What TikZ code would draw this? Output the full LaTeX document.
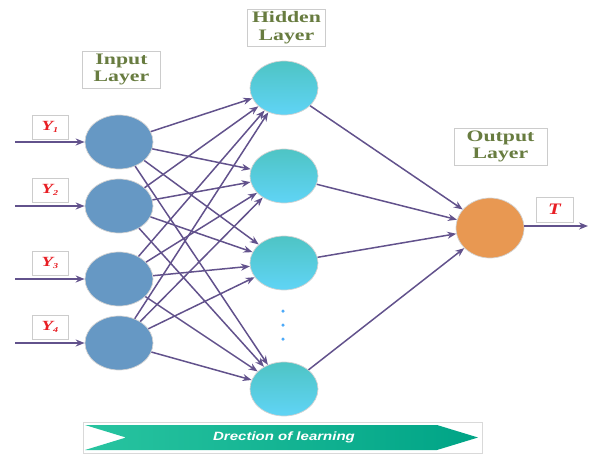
\documentclass[tikz,border=0pt]{standalone}
\usepackage{fontspec}
\setmainfont{Liberation Serif}
\newfontfamily\sansf{Liberation Sans}
\usetikzlibrary{shapes.geometric,arrows.meta}
\definecolor{edgecol}{RGB}{98,82,140}
\definecolor{incol}{RGB}{102,152,196}
\definecolor{hidtop}{RGB}{78,196,196}
\definecolor{hidbot}{RGB}{96,212,246}
\definecolor{outcol}{RGB}{232,152,82}
\definecolor{lblcol}{RGB}{104,124,64}
\definecolor{ycol}{RGB}{232,30,36}
\definecolor{barl}{RGB}{40,196,160}
\definecolor{barr}{RGB}{0,164,134}
\newcommand\strtxt[1]{\scalebox{1.36}[1]{#1}}
\newcommand\ylab[1]{\scalebox{1.35}[1]{Y\raisebox{-1.5pt}{\fontsize{7.5}{7.5}\selectfont #1}}}
\tikzset{
  neuron/.style={ellipse, minimum width=68pt, minimum height=54pt, draw=gray!35, line width=0.7pt, inner sep=0pt},
  inneuron/.style={neuron, fill=incol},
  hidneuron/.style={neuron, top color=hidtop, bottom color=hidbot},
  outneuron/.style={neuron, fill=outcol, minimum height=60pt},
  layerlbl/.style={draw=gray!40, fill=white, inner sep=0pt, align=center, text=lblcol,
    font=\bfseries\fontsize{16}{17.5}\selectfont, minimum width=78pt, minimum height=37pt},
  varlbl/.style={draw=gray!40, fill=white, inner sep=0pt, text=ycol,
    font=\bfseries\itshape\fontsize{14}{14}\selectfont, minimum width=36pt, minimum height=24pt},
  conn/.style={draw=edgecol, line width=1.5pt, -{Stealth[length=9pt,width=7pt]}},
  dotmark/.style={circle, fill=hidbot!80!blue, inner sep=0pt, minimum size=3.5pt}
}
\begin{document}
\begin{tikzpicture}[x=1pt,y=-1pt]
\useasboundingbox (0,0) rectangle (593,455);
% layer labels
\node[layerlbl] (linput) at (121.5,69.5) {\strtxt{Input}\\\strtxt{Layer}};
\node[layerlbl] (lhidden) at (286.5,27.5) {\strtxt{Hidden}\\\strtxt{Layer}};
\node[layerlbl, minimum width=93pt] (loutput) at (500.5,146.5) {\strtxt{Output}\\\strtxt{Layer}};
% input neurons
\node[inneuron] (i1) at (119,142) {};
\node[inneuron] (i2) at (119,206) {};
\node[inneuron] (i3) at (119,279) {};
\node[inneuron] (i4) at (119,343) {};
% hidden neurons
\node[hidneuron] (h1) at (284,88) {};
\node[hidneuron] (h2) at (284,176) {};
\node[hidneuron] (h3) at (284,263) {};
\node[hidneuron] (h4) at (284,389) {};
% output neuron
\node[outneuron] (o) at (490,228) {};
% dots
\node[dotmark] (d1) at (283,311) {};
\node[dotmark] (d2) at (283,325) {};
\node[dotmark] (d3) at (283,339) {};
% input variable labels
\node[varlbl] (y1) at (50,127) {\ylab{1}};
\node[varlbl] (y2) at (50,190) {\ylab{2}};
\node[varlbl] (y3) at (50,263) {\ylab{3}};
\node[varlbl] (y4) at (50,327) {\ylab{4}};
\node[varlbl, minimum width=37pt, minimum height=25pt, font=\bfseries\itshape\fontsize{16}{16}\selectfont] (t) at (554.5,209.5) {\scalebox{1.3}[1]{T}};
% input arrows
\coordinate (s1) at (15,142);
\coordinate (s2) at (15,206);
\coordinate (s3) at (15,279);
\coordinate (s4) at (15,343);
\foreach \k in {1,2,3,4} \draw[conn] (s\k) -- (i\k);
% input -> hidden
\foreach \a in {1,2,3,4}
  \foreach \b in {1,2,3,4}
    \draw[conn] (i\a) -- (h\b);
% hidden -> output
\foreach \b in {1,2,3,4} \draw[conn] (h\b) -- (o);
% output arrow
\coordinate (e) at (588,226);
\draw[conn] (o.east |- e) -- (e);
% direction bar
\draw[gray!30, line width=0.8pt] (83,422) rectangle (482,453);
\path[left color=barl, right color=barr] (85,425) -- (437,425) -- (478,437.5) -- (437,450) -- (85,450) -- (126,437.5) -- cycle;
\node[text=white, font=\sansf\bfseries\itshape\fontsize{12}{13}\selectfont] (dir) at (284,437.5) {\scalebox{1.25}[1]{Drection of learning}};
\end{tikzpicture}
\end{document}
